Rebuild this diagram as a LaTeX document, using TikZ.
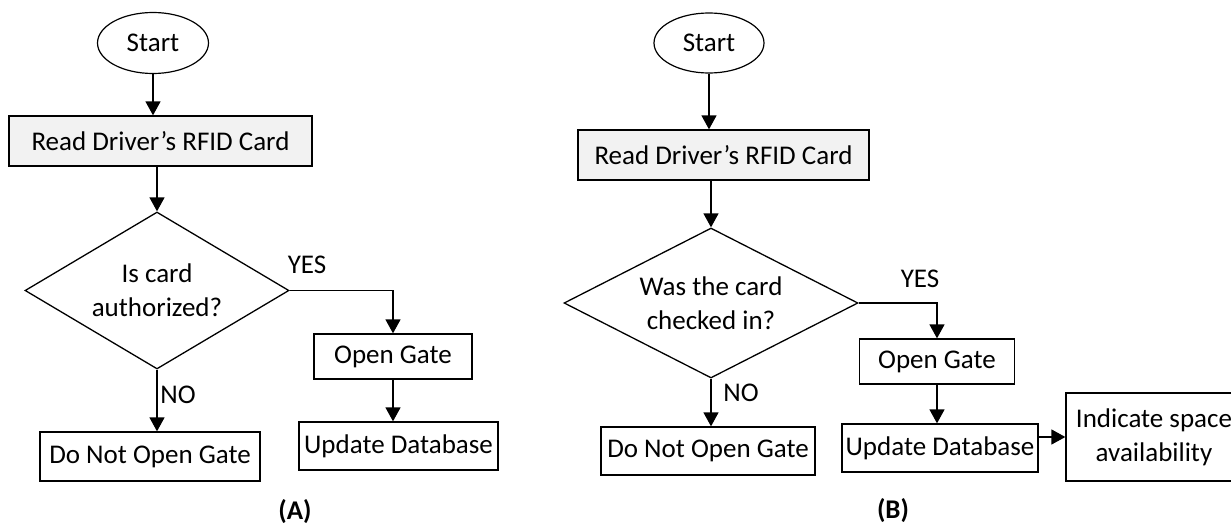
\documentclass[tikz,border=0pt]{standalone}
\usepackage{fontspec}
\setmainfont{Carlito}
\usepackage{tikz}
\usetikzlibrary{positioning,arrows.meta,shapes.geometric}
\definecolor{cardgray}{RGB}{242,242,242}

\begin{document}
\begin{tikzpicture}[x=1pt,y=-1pt,font=\fontsize{27}{34}\selectfont,>={Triangle[length=14pt,width=15pt]},
  box/.style={draw,line width=1.3pt,inner sep=0pt,align=center},
  term/.style={draw,ellipse,line width=1.2pt,inner sep=0pt,minimum width=111pt,minimum height=61pt},
  decide/.style={draw,diamond,line width=1.3pt,inner sep=0pt,align=center,shape aspect=1.7},
  tag/.style={font=\fontsize{27}{30}\selectfont\bfseries,inner sep=0pt},
  flow/.style={->,line width=1.4pt}]
  \useasboundingbox (0,0) rectangle (1231,527);
  % (A)
  \node[term] (aStart) at (153,43) {Start};
  \node[box,fill=cardgray,minimum width=303pt,minimum height=50pt] (aRead) at (160.5,141) {Read Driver’s RFID Card};
  \node[decide,minimum width=264pt,minimum height=157pt] (aCheck) at (157,290.5) {Is card\\authorized?};
  \node[box,minimum width=158pt,minimum height=45pt] (aOpen) at (393,356.5) {Open Gate};
  \node[box,minimum width=199pt,minimum height=48pt] (aUpdate) at (398.5,446) {Update Database};
  \node[box,minimum width=220pt,minimum height=49pt] (aDeny) at (150,456.5) {Do Not Open Gate};
  \node (aYes) at (307,265) {YES};
  \node (aNo) at (178,395) {NO};
  \node[tag] (aTag) at (295,512) {(A)};
  \draw[flow] (aStart.south) -- (aStart.south |- aRead.north);
  \draw[flow] (aRead.south -| aCheck.north) -- (aCheck.north);
  \draw[flow] (aCheck.east) -| (aOpen.north);
  \draw[flow] (aOpen.south) -- (aOpen.south |- aUpdate.north);
  \draw[flow] (aCheck.south) -- (aCheck.south |- aDeny.north);
  % (B)
  \node[term,minimum width=110pt,minimum height=60pt] (bStart) at (709,43) {Start};
  \node[box,fill=cardgray,minimum width=291pt,minimum height=50pt] (bRead) at (723.5,155) {Read Driver’s RFID Card};
  \node[decide,minimum width=294pt,minimum height=150pt] (bCheck) at (711,303) {Was the card\\checked in?};
  \node[box,minimum width=155pt,minimum height=45pt] (bOpen) at (937,361.5) {Open Gate};
  \node[box,minimum width=176pt,minimum height=88pt] (bSpace) at (1154,437) {Indicate space\\availability};
  \node[box,minimum width=196pt,minimum height=48pt] (bUpdate) at (940,448) {Update Database};
  \node[box,minimum width=214pt,minimum height=48pt] (bDeny) at (708,451) {Do Not Open Gate};
  \node (bYes) at (920,279) {YES};
  \node (bNo) at (741,393) {NO};
  \node[tag] (bTag) at (893,511) {(B)};
  \draw[flow] (bStart.south) -- (bStart.south |- bRead.north);
  \draw[flow] (bRead.south -| bCheck.north) -- (bCheck.north);
  \draw[flow] (bCheck.east) -| (bOpen.north);
  \draw[flow] (bOpen.south) -- (bOpen.south |- bUpdate.north);
  \draw[flow] (bUpdate.east |- bSpace.west) -- (bSpace.west);
  \draw[flow] (bCheck.south) -- (bCheck.south |- bDeny.north);
\end{tikzpicture}
\end{document}
